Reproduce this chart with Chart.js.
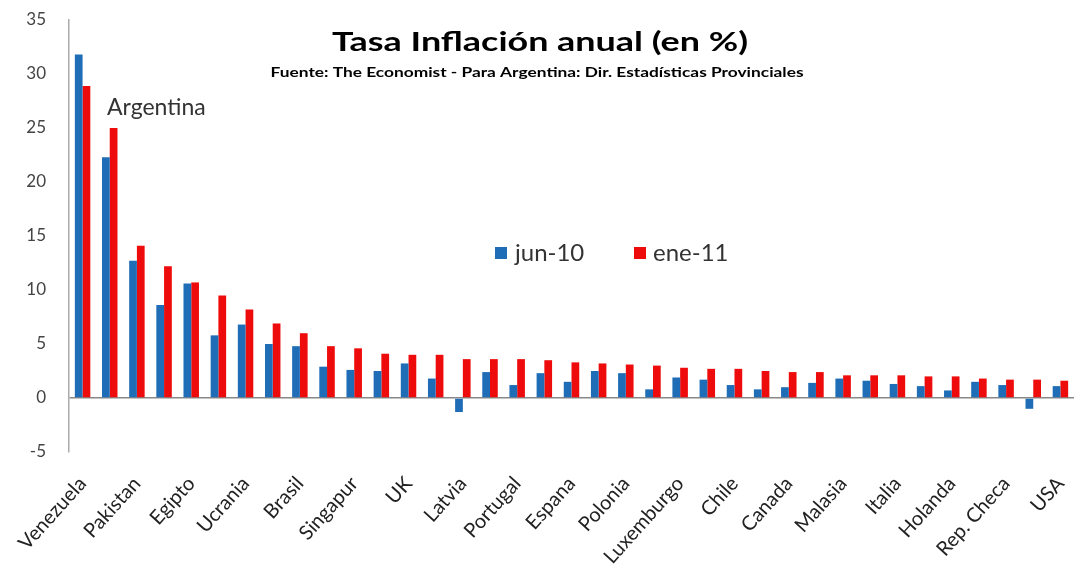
<!DOCTYPE html>
<html>
<head>
	<title>Tasa Inflacion anual</title>
	<script src="https://cdn.jsdelivr.net/npm/chart.js@4"></script>
<style>
	body { margin: 0; background: #fff; }
	#wrap { width: 1074px; height: 574px; position: relative; }
</style>
</head>
<body>
<div id="wrap">
	<canvas id="chart"></canvas>
</div>

<script lang="text/javascript">
var FONT = 'Lato, "Open Sans", sans-serif';

// categories (only every other one gets a tick label, like the original)
var paises = ['Venezuela', 'Argentina', 'Pakistan', '', 'Egipto', '', 'Ucrania', '', 'Brasil', '',
	'Singapur', '', 'UK', '', 'Latvia', '', 'Portugal', '', 'Espana', '',
	'Polonia', '', 'Luxemburgo', '', 'Chile', '', 'Canada', '', 'Malasia', '',
	'Italia', '', 'Holanda', '', 'Rep. Checa', '', 'USA'];

var jun10 = [31.8, 22.3, 12.7, 8.6, 10.6, 5.8, 6.8, 5.0, 4.8, 2.9,
	2.6, 2.5, 3.2, 1.8, -1.3, 2.4, 1.2, 2.3, 1.5, 2.5,
	2.3, 0.8, 1.9, 1.7, 1.2, 0.8, 1.0, 1.4, 1.8, 1.6,
	1.3, 1.1, 0.7, 1.5, 1.2, -1.0, 1.1];

var ene11 = [28.9, 25.0, 14.1, 12.2, 10.7, 9.5, 8.2, 6.9, 6.0, 4.8,
	4.6, 4.1, 4.0, 4.0, 3.6, 3.6, 3.6, 3.5, 3.3, 3.2,
	3.1, 3.0, 2.8, 2.7, 2.7, 2.5, 2.4, 2.4, 2.1, 2.1,
	2.1, 2.0, 2.0, 1.8, 1.7, 1.7, 1.6];

var serieNames = ['jun-10', 'ene-11'];
var yTicks = [-5, 0, 5, 10, 15, 20, 25, 30, 35];

var titulo = 'Tasa Inflación anual (en %)';
var fuente = 'Fuente: The Economist - Para Argentina: Dir. Estadísticas Provinciales';
var nota = 'Argentina';

var blue = '#1f6db6';
var red = '#ee0b0b';

// the original picture is stretched sideways, so text gets fitted to a width
function wideText(ctx, txt, cx, y, w) {
	var m = ctx.measureText(txt).width;
	ctx.save();
	ctx.translate(cx, y);
	ctx.scale(w / m, 1);
	ctx.textAlign = 'center';
	ctx.fillText(txt, 0, 0);
	ctx.restore();
}

// title, source line, Argentina note and the legend inside the plot
var overlay = {
	id: 'overlay',
	afterDraw: function(chart) {
		var ctx = chart.ctx;
		ctx.save();
		ctx.fillStyle = '#000';
		ctx.textBaseline = 'alphabetic';
		ctx.font = 'bold 27px ' + FONT;
		wideText(ctx, titulo, 540, 51, 416);
		ctx.font = 'bold 12.5px ' + FONT;
		wideText(ctx, fuente, 537, 77, 533);

		ctx.textAlign = 'left';
		ctx.fillStyle = '#333';
		ctx.font = '23px ' + FONT;
		ctx.fillText(nota, 107, 115);

		var items = [
			{ box: 495, text: 515 },
			{ box: 634, text: 653 }
		];
		ctx.font = '24px ' + FONT;
		chart.data.datasets.forEach(function(ds, i) {
			ctx.fillStyle = ds.backgroundColor;
			ctx.fillRect(items[i].box, 247, 12, 12);
			ctx.fillStyle = '#333';
			ctx.fillText(ds.label, items[i].text, 261);
		});
		ctx.restore();
	}
};

function noPad(scale) {
	scale.paddingLeft = 0;
	scale.paddingRight = 0;
	scale.paddingTop = 0;
	scale.paddingBottom = 0;
}

var ctx = document.getElementById('chart');
var chart = new Chart(ctx, {
	type: 'bar',
	data: {
		labels: paises,
		datasets: [
			{ label: serieNames[0], data: jun10, backgroundColor: blue },
			{ label: serieNames[1], data: ene11, backgroundColor: red }
		]
	},
	options: {
		responsive: true,
		maintainAspectRatio: false,
		animation: false,
		layout: { padding: { top: 20, left: 0, right: 0, bottom: 0 } },
		datasets: {
			bar: { categoryPercentage: 0.57, barPercentage: 1.0 }
		},
		plugins: {
			legend: { display: false },
			title: { display: false },
			tooltip: { enabled: false }
		},
		scales: {
			x: {
				grid: { display: false, drawTicks: false },
				border: { display: false },
				afterFit: function(scale) {
					scale.height = 122;
					noPad(scale);
				},
				ticks: {
					autoSkip: false,
					maxRotation: 48,
					minRotation: 48,
					padding: 20,
					color: '#222',
					font: { family: FONT, size: 20 },
					callback: function(v, i) {
						return i % 2 === 0 ? paises[i] : '';
					}
				}
			},
			y: {
				min: -5,
				max: 35,
				afterBuildTicks: function(scale) {
					scale.ticks = yTicks.map(function(v) { return { value: v }; });
				},
				afterFit: function(scale) {
					scale.width = 69;
					noPad(scale);
				},
				grid: {
					drawTicks: false,
					color: function(c) {
						return c.tick && c.tick.value === 0 ? '#888' : 'rgba(0,0,0,0)';
					},
					lineWidth: 1.5
				},
				border: { display: true, color: '#aaa', width: 1.5 },
				ticks: {
					padding: 23,
					color: '#444',
					font: { family: FONT, size: 17 }
				}
			}
		}
	},
	plugins: [overlay]
});
</script>
</body>
</html>
